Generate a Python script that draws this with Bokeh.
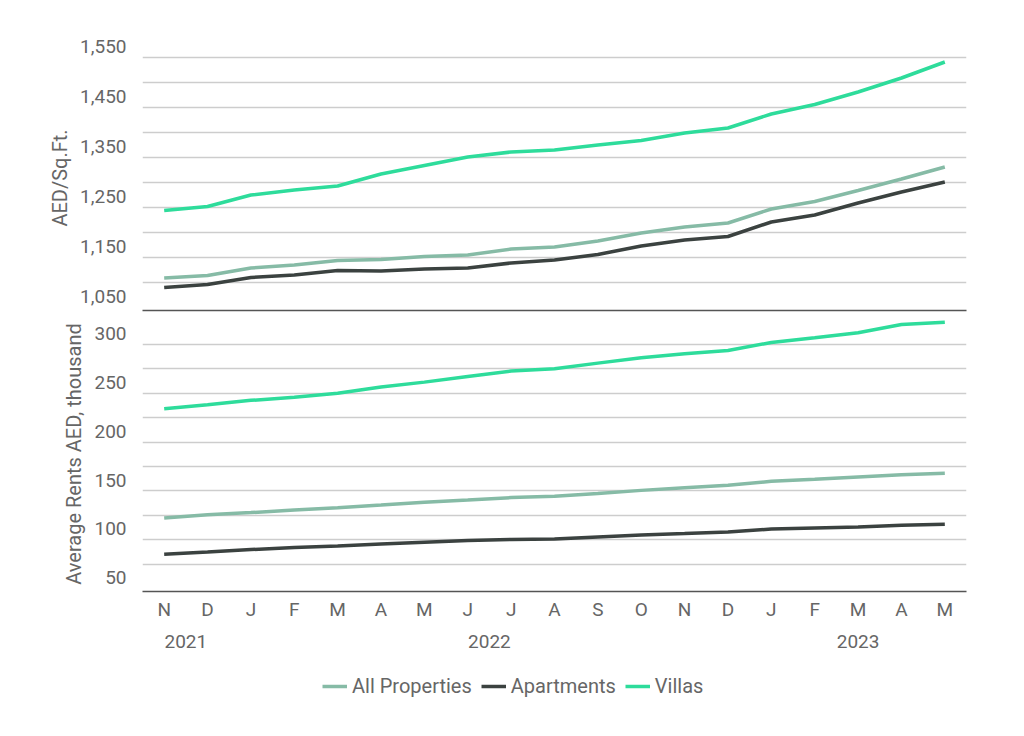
from bokeh.plotting import figure
from bokeh.layouts import column
from bokeh.models import Range1d, FixedTicker, LinearAxis, Legend, LegendItem, NumeralTickFormatter
from bokeh.embed import file_html
from bokeh.resources import INLINE


months = ["N", "D", "J", "F", "M", "A", "M", "J", "J", "A",
          "S", "O", "N", "D", "J", "F", "M", "A", "M"]
years = ["2021", "2022", "2023"]
year_pos = [0.5, 7.5, 16]
x = list(range(len(months)))

# AED per sq.ft.
price_all = [1087, 1092, 1107, 1113, 1122, 1124, 1130, 1133, 1145, 1149,
             1161, 1177, 1189, 1197, 1225, 1240, 1262, 1285, 1309]
price_apt = [1068, 1074, 1088, 1093, 1102, 1101, 1105, 1107, 1117, 1123,
             1134, 1151, 1163, 1170, 1199, 1213, 1237, 1259, 1279]
price_villa = [1222, 1230, 1253, 1263, 1271, 1295, 1312, 1329, 1339, 1343,
               1353, 1362, 1377, 1387, 1415, 1434, 1459, 1487, 1519]

# average rents, AED thousand
rent_all = [111.1, 114.5, 116.6, 119.3, 121.7, 124.4, 127.2, 129.5, 132.0, 133.3,
            136.1, 139.4, 142.2, 144.6, 148.7, 150.7, 153.1, 155.5, 156.9]
rent_apt = [73.9, 76.2, 78.7, 80.7, 82.4, 84.4, 86.2, 87.9, 89.0, 89.6,
            91.6, 93.6, 95.1, 96.7, 99.8, 100.8, 101.8, 103.6, 104.6]
rent_villa = [223.2, 227.3, 231.7, 235.0, 239.1, 245.3, 250.4, 256.2, 261.7, 264.1,
              269.9, 275.4, 279.5, 282.9, 291.1, 295.9, 301.0, 309.5, 311.9]

price_ticks = [1050, 1150, 1250, 1350, 1450, 1550]
rent_ticks = [50, 100, 150, 200, 250, 300]

FONT = "Roboto"
TEXT = "#666666"
GRID = "#cdcdcd"
AXIS = "#555555"
C_ALL = "#86bba6"
C_APT = "#3b4240"
C_VIL = "#2edc9b"
FS = "19px"
FS_BIG = "20px"
LW = 3.5
W = 1008


def style_y(p, ticks, grid_ticks, label, fmt=None):
    p.outline_line_color = None
    p.xgrid.visible = False
    p.ygrid.ticker = FixedTicker(ticks=grid_ticks)
    p.ygrid.grid_line_color = GRID
    p.ygrid.grid_line_width = 1.5
    p.yaxis.ticker = FixedTicker(ticks=ticks)
    if fmt:
        p.yaxis.formatter = NumeralTickFormatter(format=fmt)
    p.yaxis.axis_line_color = None
    p.yaxis.major_tick_line_color = None
    p.yaxis.minor_tick_line_color = None
    p.yaxis.major_label_standoff = 10
    p.yaxis.major_label_text_font = FONT
    p.yaxis.major_label_text_font_size = FS
    p.yaxis.major_label_text_color = TEXT
    p.yaxis.axis_label = label
    p.yaxis.axis_label_text_font = FONT
    p.yaxis.axis_label_text_font_size = FS_BIG
    p.yaxis.axis_label_text_font_style = "normal"
    p.yaxis.axis_label_text_color = TEXT
    p.yaxis.axis_label_standoff = 5


top = figure(width=W, height=316, x_range=Range1d(-0.5, 18.5), y_range=Range1d(1022, 1552),
             output_backend="svg", toolbar_location=None,
             min_border_left=142, min_border_right=42, min_border_top=45, min_border_bottom=6)
style_y(top, price_ticks, [t + 27.5 for t in range(1050, 1550, 50)], "AED/Sq.Ft.", "0,0")
top.xaxis.ticker = FixedTicker(ticks=[])
top.xaxis.major_label_standoff = 0
top.xaxis.major_tick_line_color = None
top.xaxis.minor_tick_line_color = None
top.xaxis.axis_line_color = AXIS
top.xaxis.axis_line_width = 1.5

top.line(x, price_all, color=C_ALL, line_width=LW)
top.line(x, price_apt, color=C_APT, line_width=LW)
top.line(x, price_villa, color=C_VIL, line_width=LW)

bot = figure(width=W, height=345, x_range=top.x_range, y_range=Range1d(35.7, 317.7),
             output_backend="svg", toolbar_location=None,
             min_border_left=142, min_border_right=42, min_border_top=0, min_border_bottom=70)
style_y(bot, rent_ticks, [t + 13.9 for t in range(50, 300, 25)], "Average Rents AED, thousand")

bot.xaxis.ticker = FixedTicker(ticks=x)
bot.xaxis.major_label_overrides = {i: m for i, m in enumerate(months)}
bot.xaxis.major_tick_line_color = None
bot.xaxis.minor_tick_line_color = None
bot.xaxis.axis_line_color = AXIS
bot.xaxis.axis_line_width = 1.5
bot.xaxis.major_label_standoff = 0
bot.xaxis.major_label_text_font = FONT
bot.xaxis.major_label_text_font_size = FS
bot.xaxis.major_label_text_color = TEXT

year_axis = LinearAxis(ticker=FixedTicker(ticks=year_pos),
                       major_label_overrides={p: y for p, y in zip(year_pos, years)})
year_axis.axis_line_color = None
year_axis.major_tick_line_color = None
year_axis.minor_tick_line_color = None
year_axis.major_label_standoff = 5
year_axis.major_label_text_font = FONT
year_axis.major_label_text_font_size = FS
year_axis.major_label_text_color = TEXT
bot.add_layout(year_axis, "below")

bot.line(x, rent_all, color=C_ALL, line_width=LW)
bot.line(x, rent_apt, color=C_APT, line_width=LW)
bot.line(x, rent_villa, color=C_VIL, line_width=LW)

# legend strip under the chart; the series sit outside its y range so only the keys show
leg = figure(width=W, height=50, x_range=top.x_range, y_range=Range1d(-2, -1),
             output_backend="svg", toolbar_location=None,
             x_axis_location=None, y_axis_location=None,
             min_border_left=142, min_border_right=42, min_border_top=0, min_border_bottom=0)
leg.outline_line_color = None
leg.grid.visible = False
l_all = leg.line(x, rent_all, color=C_ALL, line_width=LW)
l_apt = leg.line(x, rent_apt, color=C_APT, line_width=LW)
l_vil = leg.line(x, rent_villa, color=C_VIL, line_width=LW)

legend = Legend(items=[LegendItem(label="All Properties", renderers=[l_all]),
                       LegendItem(label="Apartments", renderers=[l_apt]),
                       LegendItem(label="Villas", renderers=[l_vil])],
                orientation="horizontal", location=(180, 13))
legend.border_line_color = None
legend.background_fill_alpha = 0
legend.padding = 0
legend.margin = 0
legend.spacing = 9
legend.glyph_width = 25
legend.glyph_height = 20
legend.label_height = 20
legend.label_standoff = 5
legend.label_text_font = FONT
legend.label_text_font_size = FS_BIG
legend.label_text_color = TEXT
leg.add_layout(legend, "center")

layout = column(top, bot, leg, spacing=0)
open("out.html", "w").write(file_html(layout, INLINE))
